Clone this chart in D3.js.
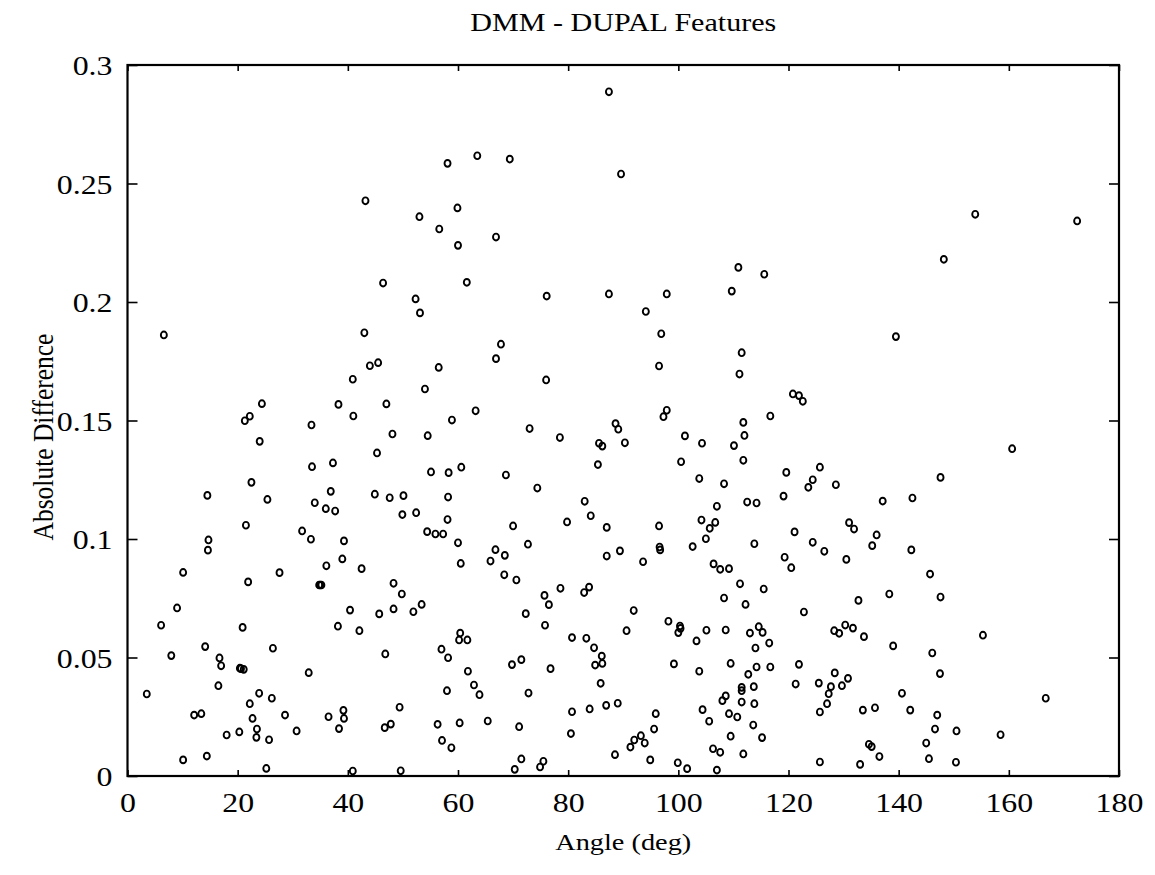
<!DOCTYPE html>
<html>
<head>
<meta charset="utf-8">
<script src="https://cdn.jsdelivr.net/npm/d3@7"></script>
<style>
  html, body { margin: 0; padding: 0; background: #fff; }
  svg { display: block; }
  text { font-family: "Liberation Serif", "Times New Roman", serif; fill: #000; }
</style>
</head>
<body>
<svg id="chart" width="1155" height="875"></svg>
<script>
// Angle between features (deg)
const angles = [
  43.2, 87.4, 58.1, 63.5, 69.4, 89.6, 53.0, 59.9, 56.6, 60.0, 66.9, 46.4, 61.6, 52.3, 76.1, 87.4,
  110.9, 115.6, 97.9, 109.7, 94.1, 153.9, 172.4, 148.2, 53.1,
  6.6, 43.0, 44.0, 45.5, 40.9, 24.4, 38.3, 21.3, 22.2, 41.0, 33.4, 24.0, 45.3, 33.5, 37.3, 22.5,
  14.5, 25.4, 36.9, 44.9, 34.0, 36.0, 37.7, 21.5, 31.7, 33.3, 39.3, 14.7, 14.6,
  67.8, 66.9, 76.0, 56.5, 54.0, 47.0, 63.2, 58.9, 73.0, 78.5, 88.6, 89.1, 85.6, 86.2, 90.3, 48.1,
  54.5, 85.4, 55.1, 58.3, 60.6, 68.7, 74.4, 47.6, 50.1, 58.2, 49.9, 52.4, 58.1, 54.4, 55.9, 57.3,
  60.0, 70.0, 72.7, 66.8, 83.0, 84.1, 79.8, 87.0, 89.4,
  96.9, 96.5, 111.5, 111.1, 120.8, 121.9, 122.6, 116.7, 97.9, 97.3, 111.8, 112.0, 110.1, 101.2,
  104.3, 111.8, 100.5, 103.8, 108.3, 119.6, 125.7, 124.4, 123.6, 128.6, 119.1, 112.5, 114.2, 107.0,
  104.2, 106.7, 105.7, 105.0, 96.5, 96.6, 96.7, 102.6, 113.8, 121.1, 124.4, 126.5, 131.0, 131.9, 135.2,
  139.5, 160.6, 147.6, 137.1, 142.5, 136.0, 142.3,
  10.1, 21.9, 27.6, 34.8, 35.0, 35.2, 36.1, 39.0, 42.5, 40.4, 45.7, 9.0, 6.1, 20.9, 38.2, 42.1,
  14.1, 7.95, 26.4, 16.7, 17.0, 20.4, 20.6, 21.1, 32.9, 16.5, 3.5, 23.9, 26.2, 22.2, 12.1, 13.4,
  22.7, 28.6, 36.5, 39.2, 39.3, 38.4, 23.5, 23.4, 18.0, 20.3, 25.7, 30.7, 10.1, 14.4, 25.2, 40.9,
  68.5, 65.9, 60.5, 87.0, 68.4, 70.6, 48.3, 49.8, 53.4, 51.9, 48.3, 78.6, 75.7, 76.5, 82.9, 83.8,
  72.3, 75.8, 60.4, 60.2, 61.7, 80.7, 83.3, 84.7, 86.1, 84.9, 86.2, 85.9, 90.6, 46.8, 57.0, 58.2,
  61.8, 62.9, 63.9, 58.0, 69.8, 71.5, 76.8, 72.8, 49.4, 46.7, 47.8, 56.3, 60.3, 65.4, 71.1, 57.1,
  58.8, 80.7, 83.9, 86.9, 89.0, 80.5, 88.5, 71.5, 75.5, 74.9, 70.3, 49.6,
  93.6, 106.4, 107.6, 109.2, 119.3, 120.5, 130.5, 111.2, 115.5, 108.3, 112.2, 132.7, 91.9, 122.8,
  98.2, 100.3, 100.4, 100.0, 105.1, 108.6, 113.0, 114.6, 115.3, 103.3, 114.0, 116.5, 128.3, 129.2,
  130.3, 131.7, 133.7, 99.2, 109.5, 114.2, 116.7, 121.9, 103.8, 112.7, 111.5, 111.5, 113.7, 108.6,
  108.0, 111.5, 113.8, 121.3, 125.5, 127.7, 128.4, 129.7, 130.8, 127.3, 127.0, 125.7, 133.5, 95.9,
  104.4, 105.6, 109.2, 110.7, 113.6, 95.6, 93.2, 92.0, 91.3, 93.9, 109.5, 115.2, 106.3, 107.6,
  111.8, 94.9, 99.9, 101.6, 107.0, 125.7, 133.0, 134.6, 135.1,
  145.7, 138.3, 147.6, 139.0, 146.1, 155.3, 147.5, 140.6, 166.7, 135.7, 142.1, 147.0, 146.6,
  150.5, 158.5, 145.0, 136.5, 145.5, 150.4
];

// Absolute difference for each angle
const diffs = [
  0.2427, 0.2887, 0.2585, 0.2617, 0.2603, 0.2540, 0.2360, 0.2397, 0.2308, 0.2239, 0.2274, 0.2080, 0.2083, 0.2013, 0.2025, 0.2034,
  0.2146, 0.2117, 0.2034, 0.2046, 0.1960, 0.2370, 0.2342, 0.2180, 0.1954,
  0.1861, 0.1870, 0.1731, 0.1744, 0.1674, 0.1571, 0.1568, 0.1499, 0.1518, 0.1519, 0.1481, 0.1412, 0.1363, 0.1305, 0.1321, 0.1239,
  0.1184, 0.1167, 0.1201, 0.1189, 0.1153, 0.1128, 0.1118, 0.1058, 0.1034, 0.0999, 0.0992, 0.0996, 0.0953,
  0.1822, 0.1761, 0.1671, 0.1724, 0.1633, 0.1570, 0.1541, 0.1502, 0.1466, 0.1428, 0.1487, 0.1463, 0.1404, 0.1392, 0.1406, 0.1443,
  0.1436, 0.1314, 0.1283, 0.1280, 0.1303, 0.1270, 0.1215, 0.1174, 0.1183, 0.1177, 0.1103, 0.1111, 0.1082, 0.1031, 0.1021, 0.1021,
  0.0984, 0.1055, 0.0978, 0.0955, 0.1159, 0.1098, 0.1072, 0.1049, 0.0950,
  0.1866, 0.1730, 0.1786, 0.1696, 0.1612, 0.1605, 0.1581, 0.1519, 0.1543, 0.1516, 0.1492, 0.1437, 0.1394, 0.1435,
  0.1404, 0.1332, 0.1326, 0.1255, 0.1233, 0.1281, 0.1303, 0.1250, 0.1218, 0.1229, 0.1181, 0.1156, 0.1152, 0.1138,
  0.1080, 0.1070, 0.1045, 0.1001, 0.1055, 0.0966, 0.0954, 0.0968, 0.0980, 0.1030, 0.0986, 0.0948, 0.1069, 0.1042, 0.0972,
  0.1854, 0.1381, 0.1260, 0.1160, 0.1173, 0.1017, 0.0954,
  0.0859, 0.0819, 0.0858, 0.0806, 0.0806, 0.0806, 0.0887, 0.0916, 0.0875, 0.0700, 0.0684, 0.0709, 0.0636, 0.0627, 0.0632, 0.0613,
  0.0546, 0.0508, 0.0539, 0.0498, 0.0465, 0.0455, 0.0453, 0.0450, 0.0436, 0.0381, 0.0346, 0.0349, 0.0328, 0.0305, 0.0257, 0.0263,
  0.0243, 0.0257, 0.0250, 0.0277, 0.0243, 0.0200, 0.0198, 0.0163, 0.0173, 0.0186, 0.0153, 0.0190, 0.0068, 0.0084, 0.0032, 0.0021,
  0.0931, 0.0907, 0.0897, 0.0928, 0.0849, 0.0827, 0.0813, 0.0768, 0.0724, 0.0693, 0.0705, 0.0792, 0.0762, 0.0723, 0.0774, 0.0797,
  0.0685, 0.0636, 0.0603, 0.0574, 0.0574, 0.0584, 0.0581, 0.0541, 0.0506, 0.0468, 0.0475, 0.0391, 0.0613, 0.0515, 0.0535, 0.0499,
  0.0442, 0.0384, 0.0343, 0.0360, 0.0470, 0.0491, 0.0453, 0.0350, 0.0290, 0.0204, 0.0219, 0.0218, 0.0224, 0.0232, 0.0208, 0.0150,
  0.0119, 0.0271, 0.0283, 0.0298, 0.0307, 0.0179, 0.0090, 0.0072, 0.0062, 0.0038, 0.0028, 0.0022,
  0.0904, 0.0895, 0.0872, 0.0875, 0.0923, 0.0879, 0.0914, 0.0811, 0.0789, 0.0751, 0.0724, 0.0741, 0.0698, 0.0692,
  0.0653, 0.0633, 0.0623, 0.0605, 0.0615, 0.0616, 0.0603, 0.0630, 0.0606, 0.0570, 0.0540, 0.0561, 0.0613, 0.0602,
  0.0637, 0.0624, 0.0588, 0.0473, 0.0475, 0.0460, 0.0460, 0.0471, 0.0442, 0.0429, 0.0374, 0.0360, 0.0377, 0.0338,
  0.0318, 0.0312, 0.0305, 0.0388, 0.0392, 0.0377, 0.0435, 0.0381, 0.0412, 0.0347, 0.0305, 0.0270, 0.0278, 0.0263,
  0.0280, 0.0231, 0.0263, 0.0249, 0.0215, 0.0198, 0.0170, 0.0152, 0.0122, 0.0139, 0.0168, 0.0162, 0.0115, 0.0100,
  0.0093, 0.0068, 0.0056, 0.0031, 0.0025, 0.0059, 0.0049, 0.0134, 0.0124,
  0.0852, 0.0768, 0.0755, 0.0549, 0.0519, 0.0594, 0.0432, 0.0349, 0.0328, 0.0288, 0.0278, 0.0257, 0.0198,
  0.0190, 0.0174, 0.0139, 0.0082, 0.0073, 0.0058
];

const xTicks = [0, 20, 40, 60, 80, 100, 120, 140, 160, 180];
const yTicks = [0, 0.05, 0.1, 0.15, 0.2, 0.25, 0.3];
const yTickLabels = ["0", "0.05", "0.1", "0.15", "0.2", "0.25", "0.3"];

const titleText = "DMM - DUPAL Features";
const xLabelText = "Angle (deg)";
const yLabelText = "Absolute Difference";

const svg = d3.select("#chart");
const plotLeft = 127.5, plotRight = 1119, plotTop = 65, plotBottom = 776;
const widen = 1.18; // horizontal stretch of the lettering

const x = d3.scaleLinear().domain([0, 180]).range([plotLeft, plotRight]);
const y = d3.scaleLinear().domain([0, 0.3]).range([plotBottom, plotTop]);

const points = angles.map((a, i) => ({ a, d: diffs[i] }));

// Inward ticks on all four sides
const axisStyle = g => {
  g.select(".domain").remove();
  g.selectAll(".tick line").attr("stroke", "#000").attr("stroke-width", 1.6);
};

svg.append("g")
  .attr("transform", `translate(0,${plotBottom})`)
  .call(d3.axisBottom(x).tickValues(xTicks).tickSizeInner(-6).tickSizeOuter(0).tickFormat(d3.format("d")))
  .call(axisStyle)
  .call(g => g.selectAll(".tick text")
    .attr("font-size", 27).attr("font-family", "Liberation Serif")
    .attr("x", 0).attr("y", 36).attr("dy", null)
    .attr("transform", `scale(${widen},1)`));

svg.append("g")
  .attr("transform", `translate(0,${plotTop})`)
  .call(d3.axisTop(x).tickValues(xTicks).tickSizeInner(-6).tickSizeOuter(0).tickFormat(""))
  .call(axisStyle);

svg.append("g")
  .attr("transform", `translate(${plotLeft},0)`)
  .call(d3.axisLeft(y).tickValues(yTicks).tickSizeInner(-10).tickSizeOuter(0)
    .tickFormat((d, i) => yTickLabels[i]))
  .call(axisStyle)
  .call(g => g.selectAll(".tick text")
    .attr("font-size", 27).attr("font-family", "Liberation Serif")
    .attr("x", -15 / widen).attr("y", 0).attr("dy", "0.36em")
    .attr("transform", `scale(${widen},1)`));

svg.append("g")
  .attr("transform", `translate(${plotRight},0)`)
  .call(d3.axisRight(y).tickValues(yTicks).tickSizeInner(-10).tickSizeOuter(0).tickFormat(""))
  .call(axisStyle);

// Frame
svg.append("rect")
  .attr("x", plotLeft).attr("y", plotTop)
  .attr("width", plotRight - plotLeft).attr("height", plotBottom - plotTop)
  .attr("fill", "none").attr("stroke", "#000").attr("stroke-width", 2.2);

// Points
svg.append("g")
  .selectAll("ellipse")
  .data(points)
  .join("ellipse")
  .attr("cx", p => x(p.a))
  .attr("cy", p => y(p.d))
  .attr("rx", 3.0)
  .attr("ry", 3.4)
  .attr("fill", "none")
  .attr("stroke", "#000")
  .attr("stroke-width", 1.9);

// Titles
svg.append("text")
  .attr("transform", `translate(${(plotLeft + plotRight) / 2},31) scale(${widen},1)`)
  .attr("text-anchor", "middle").attr("font-size", 25.5)
  .text(titleText);

svg.append("text")
  .attr("transform", `translate(${(plotLeft + plotRight) / 2},850) scale(${widen},1)`)
  .attr("text-anchor", "middle").attr("font-size", 24)
  .text(xLabelText);

svg.append("text")
  .attr("transform", `translate(53,437) scale(${widen},1) rotate(-90)`)
  .attr("text-anchor", "middle").attr("font-size", 25.5)
  .text(yLabelText);
</script>
</body>
</html>
